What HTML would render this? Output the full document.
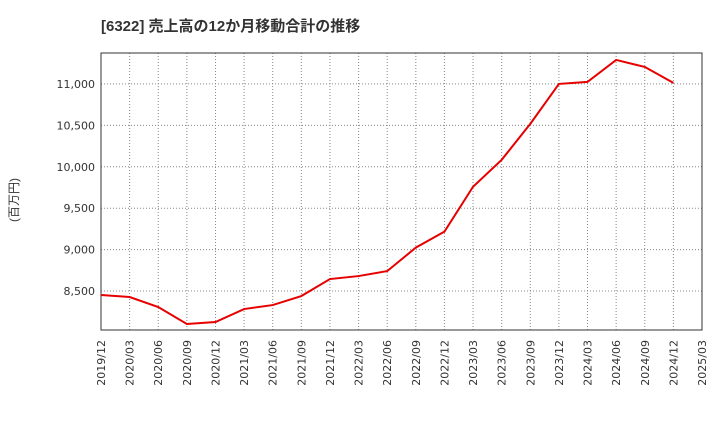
<!DOCTYPE html>
<html><head><meta charset="utf-8"><style>
body{margin:0;background:#fff;font-family:"Liberation Sans","Noto Sans CJK JP",sans-serif;}
</style></head><body>
<svg id="chart" width="720" height="440" xmlns="http://www.w3.org/2000/svg">
<text x="101" y="31" font-size="15" font-weight="bold" fill="#333" font-family="Liberation Sans, Noto Sans CJK JP, sans-serif">[6322]  売上高の12か月移動合計の推移</text>
<text transform="translate(18,200) rotate(-90)" text-anchor="middle" font-size="12" fill="#333" font-family="Liberation Sans, Noto Sans CJK JP, sans-serif">(百万円)</text>
<g id="grid"></g><g id="axes" font-family="DejaVu Sans, sans-serif"></g><g id="series"></g>
</svg>
<script>
const categories=["2019/12","2020/03","2020/06","2020/09","2020/12","2021/03","2021/06","2021/09","2021/12","2022/03","2022/06","2022/09","2022/12","2023/03","2023/06","2023/09","2023/12","2024/03","2024/06","2024/09","2024/12","2025/03"];
const salesValues=[8452,8428,8307,8102,8126,8283,8331,8440,8645,8681,8741,9024,9217,9759,10084,10518,11000,11024,11289,11205,11012];
const yTicks=[8500,9000,9500,10000,10500,11000];
const yTickLabels=["8,500","9,000","9,500","10,000","10,500","11,000"];
const L=101,R=702,T=53,B=330,yMin=8030,yMax=11373;
const NS="http://www.w3.org/2000/svg";
const xS=i=>L+(R-L)*i/(categories.length-1);
const yS=v=>B-(v-yMin)/(yMax-yMin)*(B-T);
function mk(t,a,p){const e=document.createElementNS(NS,t);for(const k in a)e.setAttribute(k,a[k]);p.appendChild(e);return e;}
const grid=document.getElementById('grid'),axes=document.getElementById('axes'),series=document.getElementById('series');
categories.forEach((c,i)=>{
 const x=xS(i);
 const g=mk('line',{x1:x,x2:x,y1:T,y2:B,stroke:'#888','stroke-dasharray':'1,2','stroke-width':1},grid);
 
 
 const t=mk('text',{transform:`translate(${x+4},${B+10}) rotate(-90)`,'text-anchor':'end','font-size':11,fill:'#333'},axes);
 t.textContent=c;
 
 
});
yTicks.forEach((v,i)=>{
 const y=yS(v);
 const g=mk('line',{x1:L,x2:R,y1:y,y2:y,stroke:'#888','stroke-dasharray':'1,2','stroke-width':1},grid);
 
 
 const t=mk('text',{x:L-6,y:y+4,'text-anchor':'end','font-size':11,fill:'#333'},axes);
 t.textContent=yTickLabels[i];
 
 
});
const f=mk('rect',{x:L,y:T,width:R-L,height:B-T,fill:'none',stroke:'#333','stroke-width':1},axes);


const pl=mk('polyline',{points:salesValues.map((v,i)=>xS(i)+','+yS(v)).join(' '),fill:'none',stroke:'#e60000','stroke-width':2},series);


</script>
</body></html>
